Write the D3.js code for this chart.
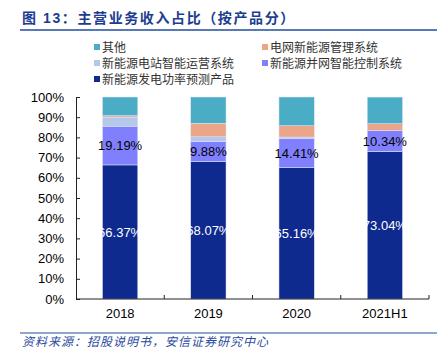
<!DOCTYPE html>
<html>
<head>
<meta charset="utf-8">
<script src="https://cdn.jsdelivr.net/npm/d3@7"></script>
<style>
  body { margin: 0; background: #fff; }
  text { font-family: "Liberation Sans", Arial, "Noto Sans CJK SC", sans-serif; }
</style>
</head>
<body>
<svg id="my_svg"></svg>
<script>
const width = 437;
const height = 354;

// 数据
const categories = ['2018', '2019', '2020', '2021H1'];
const seriesNames = ['新能源发电功率预测产品', '新能源并网智能控制系统', '新能源电站智能运营系统', '电网新能源管理系统', '其他'];
const forecast = [66.37, 68.07, 65.16, 73.04];
const gridCtrl = [19.19, 9.88, 14.41, 10.34];
const stationOps = [4.5, 2.35, 0.6, 0];
const gridMgmt = [0.7, 6.7, 5.6, 3.4];
const others = [9.24, 13.0, 14.23, 13.18];
const yTicks = [0, 10, 20, 30, 40, 50, 60, 70, 80, 90, 100];
const colors = ['#0f2a8f', '#8080ff', '#b3c8ea', '#eba68a', '#4bacc6'];

const svg = d3.select('#my_svg')
  .attr('width', width)
  .attr('height', height);

// 标题
svg.append('text')
  .attr('x', 22)
  .attr('y', 23)
  .attr('fill', '#1c3d8f')
  .attr('font-size', 14)
  .attr('font-weight', 'bold')
  .attr('letter-spacing', 1.6)
  .text('图 13：主营业务收入占比（按产品分）');
svg.append('line')
  .attr('x1', 20).attr('x2', 437)
  .attr('y1', 30).attr('y2', 30)
  .attr('stroke', '#1f4e9e')
  .attr('stroke-width', 1.5);

// 图例
const legendItems = [
  { name: '其他', c: 4, x: 95, y: 47 },
  { name: '电网新能源管理系统', c: 3, x: 263, y: 47 },
  { name: '新能源电站智能运营系统', c: 2, x: 95, y: 63 },
  { name: '新能源并网智能控制系统', c: 1, x: 263, y: 63 },
  { name: '新能源发电功率预测产品', c: 0, x: 95, y: 79 }
];
const legend = svg.append('g');
legendItems.forEach(d => {
  legend.append('rect')
    .attr('x', d.x - 1).attr('y', d.y - 3)
    .attr('width', 6).attr('height', 6)
    .attr('fill', colors[d.c]);
  legend.append('text')
    .attr('x', d.x + 7).attr('y', d.y + 4.5)
    .attr('font-size', 12)
    .attr('fill', '#333')
    .text(d.name);
});

// 坐标
const xScale = d3.scaleBand()
  .domain(categories)
  .range([76, 429])
  .paddingInner(0.6)
  .paddingOuter(0.3);

const yScale = d3.scaleLinear()
  .domain([0, 100])
  .range([299, 97]);

const rows = categories.map((c, i) => ({
  cat: c,
  values: [forecast[i], gridCtrl[i], stationOps[i], gridMgmt[i], others[i]]
}));

const stackData = rows.map(r => {
  let acc = 0;
  return r.values.map((v, k) => {
    const seg = { cat: r.cat, k: k, y0: acc, y1: acc + v, v: v };
    acc += v;
    return seg;
  });
});

const bar_g = svg.append('g');
stackData.forEach(segs => {
  bar_g.selectAll(null)
    .data(segs.filter(s => s.v > 0))
    .enter()
    .append('rect')
    .attr('x', d => xScale(d.cat))
    .attr('width', xScale.bandwidth())
    .attr('y', d => yScale(Math.min(d.y1, 100)))
    .attr('height', d => yScale(d.y0) - yScale(Math.min(d.y1, 100)))
    .attr('fill', d => colors[d.k])
    .attr('stroke', '#dfe6f6')
    .attr('stroke-width', 0.5);
});

// 数据标签
stackData.forEach(segs => {
  [0, 1].forEach(k => {
    const s = segs[k];
    bar_g.append('text')
      .attr('x', xScale(s.cat) + xScale.bandwidth() / 2)
      .attr('y', yScale((s.y0 + s.y1) / 2))
      .attr('dy', '0.36em')
      .attr('text-anchor', 'middle')
      .attr('font-size', 13)
      .attr('fill', k === 0 ? '#fff' : '#000')
      .text(s.v.toFixed(2) + '%');
  });
});

// y轴
const yAxis = d3.axisLeft(yScale)
  .tickValues(yTicks)
  .tickFormat(d => d + '%')
  .tickSizeInner(-4)
  .tickSizeOuter(0)
  .tickPadding(12);
const yG = svg.append('g')
  .attr('transform', 'translate(76, 0)')
  .call(yAxis);
yG.selectAll('text').attr('font-size', 13).attr('fill', '#000').attr('font-family', '"Liberation Sans", Arial, sans-serif');
yG.selectAll('line, path').attr('stroke', '#222');

// x轴
const xAxis = d3.axisBottom(xScale)
  .tickSize(0)
  .tickPadding(10);
const xG = svg.append('g')
  .attr('transform', 'translate(0, 299)')
  .call(xAxis);
xG.selectAll('text').attr('font-size', 13).attr('fill', '#000').attr('font-family', '"Liberation Sans", Arial, sans-serif');
xG.select('path').attr('d', 'M76,0H429').attr('stroke', '#222');
// 类别之间的刻度
const step = xScale.step();
const boundaries = categories.map((c, i) => xScale(c) - xScale.paddingInner() * step / 2);
boundaries.slice(1).concat([429]).forEach(b => {
  xG.append('line')
    .attr('x1', b).attr('x2', b)
    .attr('y1', 0).attr('y2', -4)
    .attr('stroke', '#222');
});

// 资料来源
svg.append('line')
  .attr('x1', 20).attr('x2', 437)
  .attr('y1', 333).attr('y2', 333)
  .attr('stroke', '#1f4e9e')
  .attr('stroke-width', 1.2);
svg.append('text')
  .attr('x', 22)
  .attr('y', 346)
  .attr('font-size', 12)
  .attr('font-style', 'italic')
  .attr('fill', '#2b4a9c')
  .attr('letter-spacing', 1)
  .text('资料来源：招股说明书，安信证券研究中心');
</script>
</body>
</html>
